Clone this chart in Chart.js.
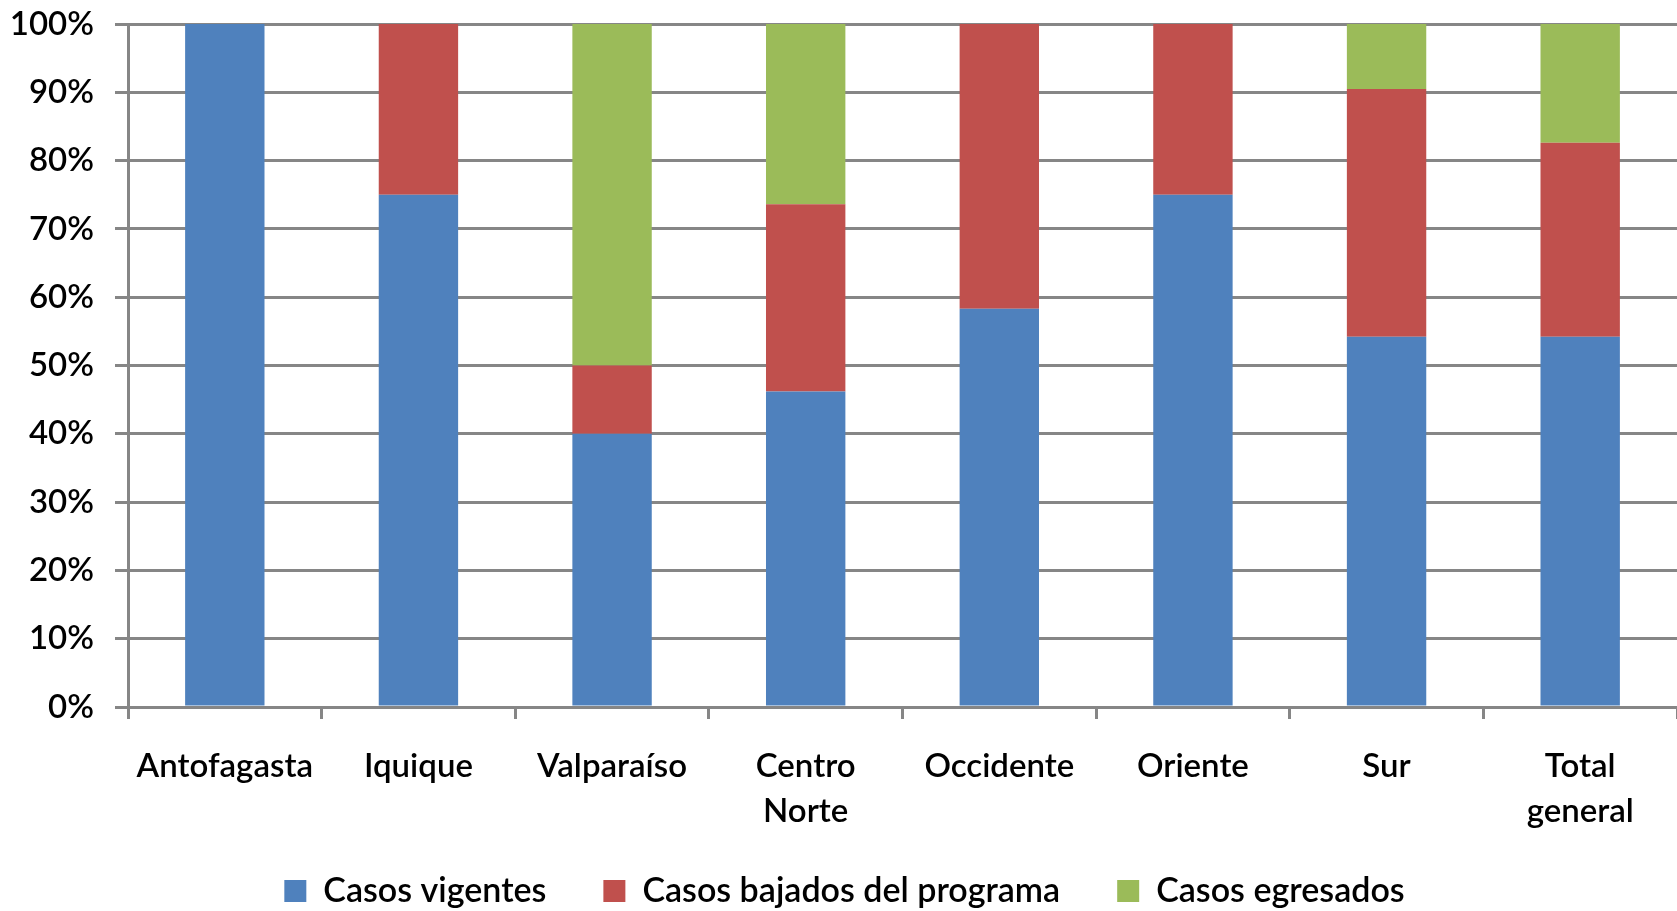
<!DOCTYPE html>
<html>
<head>
<meta charset="utf-8">
<script src="https://cdn.jsdelivr.net/npm/chart.js@4/dist/chart.umd.min.js"></script>
<style>
  html, body { margin: 0; padding: 0; background: #ffffff; }
  canvas { display: block; }
</style>
</head>
<body>
<canvas id="c" width="1677" height="911"></canvas>
<script>
const categories = ['Antofagasta', 'Iquique', 'Valparaíso', ['Centro', 'Norte'], 'Occidente', 'Oriente', 'Sur', ['Total', 'general']];
const seriesNames = ['Casos vigentes', 'Casos bajados del programa', 'Casos egresados'];
const casosVigentes = [100, 75, 40, 46.2, 58.3, 75, 54.2, 54.2];
const casosBajados  = [0, 25, 10, 27.4, 41.7, 25, 36.3, 28.4];
const casosEgresados = [0, 0, 50, 26.4, 0, 0, 9.5, 17.4];
const yTickValues = [0, 10, 20, 30, 40, 50, 60, 70, 80, 90, 100];

const colors = ['#4F81BD', '#C0504D', '#9BBB59'];
const gridColor = '#868686';
const fontFamily = 'Lato, "Open Sans", sans-serif';
const fontSize = 33;

// Widen only the label clip boxes of the axes (labels may use the free space around them).
const widenLabelClip = {
  id: 'widenLabelClip',
  afterLayout(chart) {
    chart.scales.x.bottom = chart.height;
    chart.scales.y.left = 0;
  }
};

new Chart(document.getElementById('c'), {
  type: 'bar',
  plugins: [widenLabelClip],
  data: {
    labels: categories,
    datasets: [casosVigentes, casosBajados, casosEgresados].map((d, i) => ({
      label: seriesNames[i],
      data: d,
      backgroundColor: colors[i],
      borderWidth: 0,
      barPercentage: 0.41,
      categoryPercentage: 1.0
    }))
  },
  options: {
    responsive: false,
    animation: false,
    layout: { padding: { top: 24, right: -2, bottom: -7, left: 10 } },
    plugins: {
      tooltip: { enabled: false },
      legend: {
        position: 'bottom',
        labels: {
          color: '#000000',
          font: { family: fontFamily, size: 34, weight: '600' },
          boxWidth: 22,
          boxHeight: 22,
          padding: 57
        }
      }
    },
    scales: {
      x: {
        stacked: true,
        grid: {
          display: true,
          drawOnChartArea: false,
          drawTicks: true,
          tickLength: 12,
          color: gridColor,
          lineWidth: 3,
          offset: true
        },
        border: { display: true, color: gridColor, width: 3 },
        ticks: {
          color: '#000000',
          font: { family: fontFamily, size: fontSize, weight: '600', lineHeight: 1.36 },
          padding: 25,
          maxRotation: 0,
          autoSkip: false
        },
        afterFit: (s) => { s.height = 110; }
      },
      y: {
        stacked: true,
        min: 0,
        max: 100,
        afterBuildTicks: (s) => { s.ticks = yTickValues.map(v => ({ value: v })); },
        grid: {
          color: gridColor,
          lineWidth: 3,
          drawTicks: true,
          tickLength: 13
        },
        border: { display: true, color: gridColor, width: 3 },
        ticks: {
          color: '#000000',
          font: { family: fontFamily, size: fontSize, weight: '600' },
          padding: 21,
          callback: (v) => v + '%'
        },
        afterFit: (s) => { s.width = 118; s.paddingTop = 0; }
      }
    }
  }
});
</script>
</body>
</html>
